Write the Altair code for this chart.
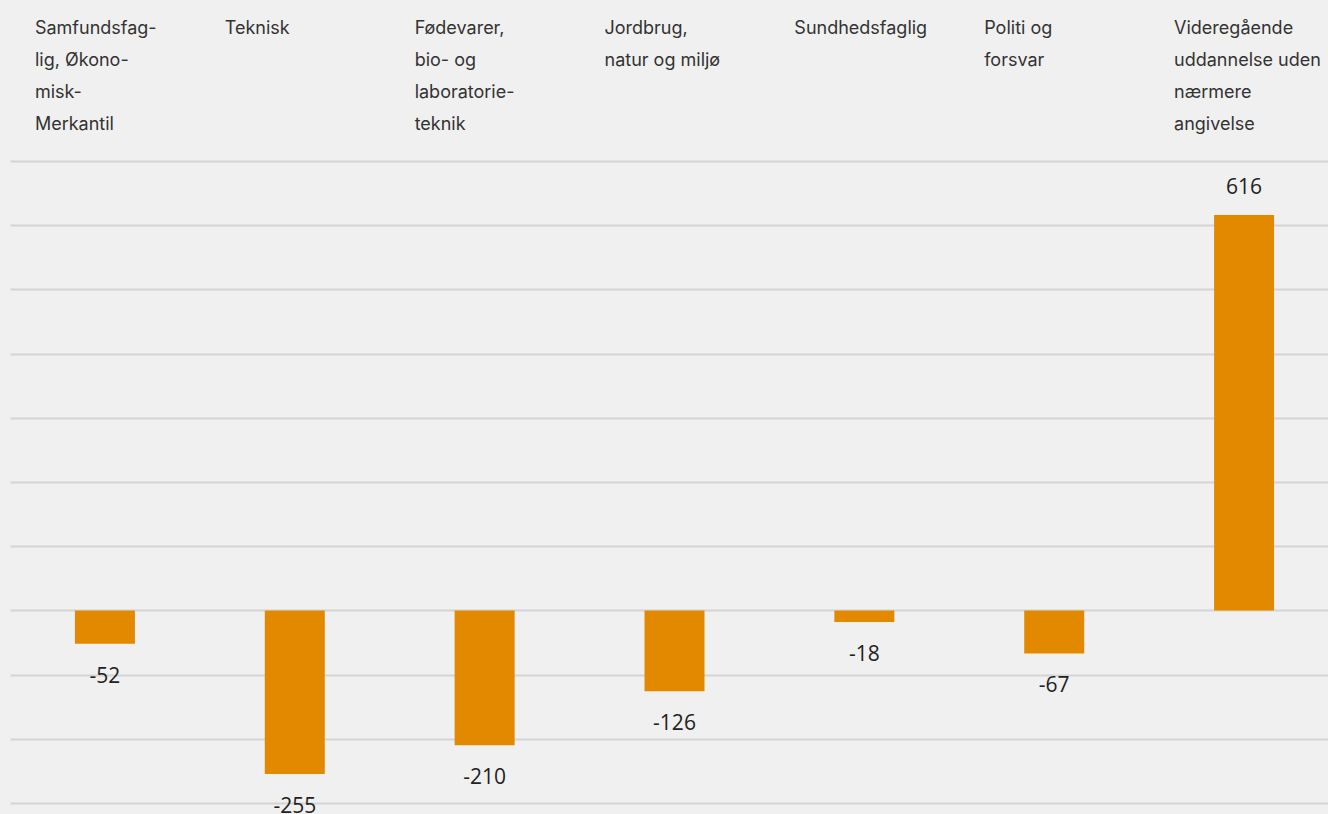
import altair as alt
import pandas as pd

categories = [
    "Samfundsfag-\nlig, Økono-\nmisk-\nMerkantil",
    "Teknisk",
    "Fødevarer,\nbio- og\nlaboratorie-\nteknik",
    "Jordbrug,\nnatur og miljø",
    "Sundhedsfaglig",
    "Politi og\nforsvar",
    "Videregående\nuddannelse uden\nnærmere\nangivelse",
]
keys = ["c1", "c2", "c3", "c4", "c5", "c6", "c7"]
values = [-52, -255, -210, -126, -18, -67, 616]
grid_values = [-300, -200, -100, 0, 100, 200, 300, 400, 500, 600, 700]

df = pd.DataFrame({"key": keys, "label": categories, "value": values})
df["value_text"] = df["value"].astype(str)

x = alt.X("key:N", sort=keys, axis=None,
          scale=alt.Scale(paddingInner=0, paddingOuter=0, range=[0, 1329]))
y = alt.Y("value:Q", scale=alt.Scale(domain=[-300, 700], nice=False, zero=False),
          axis=alt.Axis(values=grid_values, labels=False, ticks=False, domain=False,
                        title=None, grid=True, gridColor="#d4d4d4", gridWidth=2))

base = alt.Chart(df)

bars = base.mark_bar(size=60, color="#E38900").encode(x=x, y=y)

pos_labels = base.transform_filter("datum.value >= 0").mark_text(
    font="Open Sans", fontSize=21, color="#222222", baseline="middle", dy=-27
).encode(x=x, y=alt.Y("value:Q"), text="value_text:N")

neg_labels = base.transform_filter("datum.value < 0").mark_text(
    font="Open Sans", fontSize=21, color="#222222", baseline="middle", dy=33
).encode(x=x, y=alt.Y("value:Q"), text="value_text:N")

cat_labels = base.mark_text(
    font="Inter", fontSize=18, color="#333333", align="left", baseline="middle",
    lineBreak="\n", lineHeight=32, dx=-70
).encode(x=x, y=alt.value(-132), text="label:N")

chart = alt.layer(bars, pos_labels, neg_labels, cat_labels).properties(
    width=1318, height=642,
    background="#F0F0F0",
    padding={"left": 10, "top": 161, "right": 0, "bottom": 11},
    autosize=alt.AutoSizeParams(type="none"),
).configure_view(stroke=None)

chart.save("out.html", embed_options={"renderer": "svg", "actions": False})
